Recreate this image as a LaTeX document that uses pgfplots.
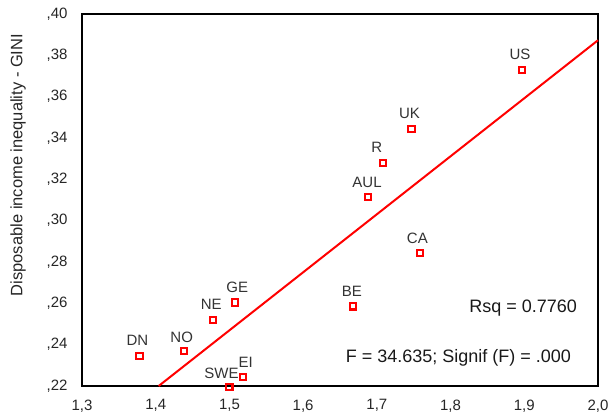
\documentclass[border=0pt]{standalone}
\usepackage{pgfplots}
\pgfplotsset{compat=1.18}
\usepackage{fontspec}
\setmainfont{Liberation Sans}
\begin{document}
\begin{tikzpicture}
\begin{axis}[name=ax, scale only axis, width=516pt, height=372pt,
  xmin=1.3, xmax=2.0, ymin=0.22, ymax=0.40,
  xtick={1.3,1.4,1.5,1.6,1.7,1.8,1.9,2.0},
  xticklabels={{1,3},{1,4},{1,5},{1,6},{1,7},{1,8},{1,9},{2,0}},
  ytick={0.22,0.24,0.26,0.28,0.30,0.32,0.34,0.36,0.38,0.40},
  yticklabels={{,22},{,24},{,26},{,28},{,30},{,32},{,34},{,36},{,38},{,40}},
  major tick length=0pt,
  axis line style={line width=2pt, black},
  tick label style={font=\fontsize{15}{17}\selectfont, color=black!85},
  yticklabel style={xshift=-11pt},
  xticklabel style={yshift=-10pt},
  ylabel={Disposable income inequality - GINI},
  ylabel style={at={(axis description cs:-0.124,0.594)}, anchor=center, font=\fontsize{16.5}{18}\selectfont, color=black!85},
  clip=false,
]
\addplot[red, line width=2pt] coordinates {(1.404,0.22) (2.0,0.3873)};
\addplot[only marks, mark=square, mark size=3.1pt, red, line width=2.1pt,
  mark options={fill=white},
  nodes near coords, point meta=explicit symbolic,
  visualization depends on={value \thisrow{dx}\as\dx},
  visualization depends on={value \thisrow{dy}\as\dy},
  nodes near coords style={anchor=base, xshift=\dx pt, yshift=\dy pt, inner sep=0pt,
    font=\fontsize{15}{17}\selectfont, text=black!80}]
  table[x=x, y=y, meta=lab] {
x y dx dy lab
1.378 0.2346 -2 10.5 DN
1.438 0.2370 -2 8.5 NO
1.478 0.2520 -2 10.5 NE
1.508 0.2604 2 10.5 GE
1.500 0.2195 -8 8.5 SWE
1.518 0.2244 3 9.5 EI
1.6676 0.2585 -1 9.5 BE
1.688 0.3115 -1 9.5 AUL
1.708 0.3280 -6 10.5 R
1.747 0.3445 -2 10.5 UK
1.759 0.2842 -3 9.5 CA
1.897 0.3728 -2 10.5 US
};
\node[anchor=east, inner sep=0pt, font=\fontsize{18}{20}\selectfont, text=black!90] at (axis cs:1.9716,0.2579) {Rsq = 0.7760};
\node[anchor=east, inner sep=0pt, font=\fontsize{18}{20}\selectfont, text=black!90] at (axis cs:1.9635,0.2336) {F = 34.635; Signif (F) = .000};
\end{axis}
\pgfresetboundingbox
\path ([shift={(-82pt,-29pt)}]ax.south west) rectangle ([shift={(12pt,14pt)}]ax.north east);
\end{tikzpicture}
\end{document}
